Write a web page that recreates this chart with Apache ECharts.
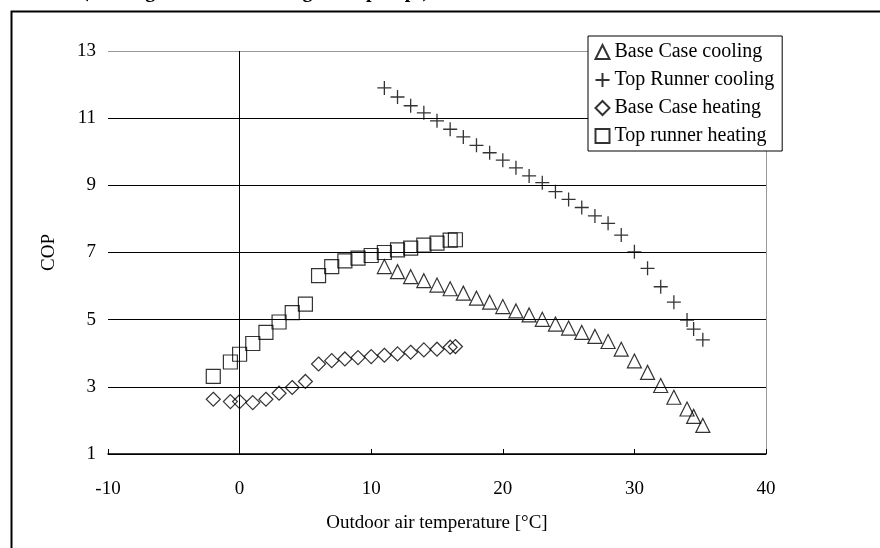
<!DOCTYPE html>
<html>
<head>
<meta charset="utf-8" />
<title>COP vs outdoor air temperature</title>
<script src="https://cdn.jsdelivr.net/npm/echarts@6/dist/echarts.min.js"></script>
<style>
  html, body { margin: 0; padding: 0; background: #fff; }
  #chart { width: 880px; height: 548px; }
</style>
</head>
<body>
<div id="chart"></div>
<script>
// outdoor air temperature [°C] of the cooling points
const coolTemp = [11, 12, 13, 14, 15, 16, 17, 18, 19, 20, 21, 22, 23, 24, 25, 26, 27, 28, 29, 30, 31, 32, 33, 34, 34.5, 35.2];
const baseCaseCooling = [6.58, 6.43, 6.28, 6.16, 6.03, 5.92, 5.79, 5.64, 5.52, 5.39, 5.26, 5.14, 5.01, 4.87, 4.75, 4.62, 4.50, 4.35, 4.12, 3.77, 3.43, 3.04, 2.69, 2.34, 2.12, 1.85];
const topRunnerCooling = [11.9, 11.63, 11.37, 11.16, 10.92, 10.67, 10.44, 10.19, 9.97, 9.75, 9.52, 9.28, 9.08, 8.81, 8.58, 8.34, 8.09, 7.87, 7.52, 7.02, 6.53, 5.98, 5.52, 4.99, 4.72, 4.40];
// outdoor air temperature [°C] of the heating points
const heatTemp = [-2, -0.7, 0, 1, 2, 3, 4, 5, 6, 7, 8, 9, 10, 11, 12, 13, 14, 15, 16, 16.4];
const baseCaseHeating = [2.63, 2.56, 2.56, 2.53, 2.63, 2.81, 2.98, 3.16, 3.68, 3.78, 3.83, 3.87, 3.90, 3.94, 3.98, 4.03, 4.10, 4.12, 4.18, 4.20];
const topRunnerHeating = [3.31, 3.74, 3.97, 4.29, 4.62, 4.93, 5.21, 5.46, 6.31, 6.58, 6.75, 6.83, 6.91, 7.00, 7.08, 7.13, 7.22, 7.28, 7.37, 7.38];
const seriesNames = ['Base Case cooling', 'Top Runner cooling', 'Base Case heating', 'Top runner heating'];

const FONT = '"Liberation Serif", "Times New Roman", serif';
const plusPath = 'path://M7,0L7,14M0,7L14,7';

const pairs = function(xs, ys) {
    return xs.map(function(x, i) { return [x, ys[i]]; });
};

const chart = echarts.init(document.getElementById('chart'));

const hollow = function(name, symbol, size, xs, ys, bw) {
    return {
        name: name,
        type: 'scatter',
        symbol: symbol,
        symbolSize: size,
        itemStyle: { color: 'none', borderColor: '#000', borderWidth: bw },
        emphasis: { disabled: true },
        data: pairs(xs, ys)
    };
};

const option = {
    backgroundColor: '#fff',
    animation: false,
    textStyle: { fontFamily: FONT, color: '#000' },
    title: {
        // only the bottom of this line is inside the picture
        text: '(Cooling mode and heating [heat pump])',
        left: 77,
        top: -23,
        textStyle: { fontFamily: FONT, fontWeight: 'bold', fontSize: 20, color: '#000' }
    },
    graphic: [{
        // outer frame of the figure
        type: 'rect',
        left: 9, top: 9,
        shape: { width: 900, height: 600 },
        style: { fill: 'none', stroke: '#000', lineWidth: 2 },
        z: 0
    }],
    grid: { left: 108, right: 114, top: 51, bottom: 94 },
    legend: {
        data: seriesNames,
        orient: 'vertical',
        left: 588,
        top: 36,
        padding: [6, 8, 5, 5],
        itemGap: 8,
        itemWidth: 14,
        itemHeight: 14,
        backgroundColor: '#fff',
        borderColor: '#000',
        borderWidth: 1,
        borderRadius: 0,
        textStyle: { fontFamily: FONT, fontSize: 20, color: '#000' }
    },
    xAxis: {
        type: 'value',
        min: -10,
        max: 40,
        interval: 10,
        name: 'Outdoor air temperature [°C]',
        nameLocation: 'middle',
        nameGap: 60,
        nameTextStyle: { fontFamily: FONT, fontSize: 19, color: '#000' },
        axisLine: { onZero: false, lineStyle: { color: '#000', width: 1.5 } },
        axisTick: { inside: true, length: 5, lineStyle: { color: '#000' } },
        axisLabel: { margin: 26, fontFamily: FONT, fontSize: 19, color: '#000' },
        splitLine: {
            show: true,
            lineStyle: { color: ['transparent', '#000', 'transparent', 'transparent', 'transparent', '#999'], width: 1 }
        }
    },
    yAxis: {
        type: 'value',
        min: 1,
        max: 13,
        interval: 2,
        name: 'COP',
        nameLocation: 'middle',
        nameGap: 49,
        nameRotate: 90,
        nameTextStyle: { fontFamily: FONT, fontSize: 19, color: '#000' },
        axisLine: { show: false },
        axisTick: { show: false },
        axisLabel: { margin: 12, fontFamily: FONT, fontSize: 19, color: '#000' },
        splitLine: {
            show: true,
            lineStyle: { color: ['#000', '#000', '#000', '#000', '#000', '#000', '#999'], width: 1 }
        }
    },
    series: [
        hollow(seriesNames[0], 'triangle', 14, coolTemp, baseCaseCooling, 1.2),
        hollow(seriesNames[1], plusPath, 14, coolTemp, topRunnerCooling, 1.3),
        hollow(seriesNames[2], 'diamond', 14, heatTemp, baseCaseHeating, 1.2),
        hollow(seriesNames[3], 'rect', 14, heatTemp, topRunnerHeating, 1.2)
    ]
};

chart.setOption(option);
</script>
</body>
</html>
